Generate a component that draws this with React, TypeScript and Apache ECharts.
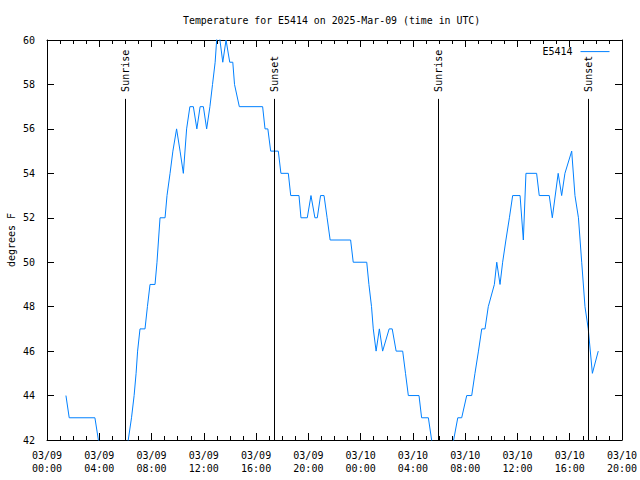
import React, { useEffect, useRef } from "react";
import * as echarts from "echarts";

// Observation times (UTC) and temperatures (°F)
const times: string[] = [
  "03-09 01:27", "03-09 01:42", "03-09 03:40", "03-09 03:56", "03-09 04:12", "03-09 04:36",
  "03-09 05:30", "03-09 05:54", "03-09 06:13", "03-09 06:28", "03-09 06:40", "03-09 06:49",
  "03-09 06:56", "03-09 07:07", "03-09 07:30", "03-09 07:41", "03-09 07:53", "03-09 08:16",
  "03-09 08:25", "03-09 08:32", "03-09 08:39", "03-09 09:02", "03-09 09:11", "03-09 09:25",
  "03-09 09:38", "03-09 09:55", "03-09 10:11", "03-09 10:26", "03-09 10:41", "03-09 10:56",
  "03-09 11:12", "03-09 11:28", "03-09 11:43", "03-09 11:58", "03-09 12:13", "03-09 12:28",
  "03-09 12:40", "03-09 12:52", "03-09 12:59", "03-09 13:06", "03-09 13:14", "03-09 13:27",
  "03-09 13:42", "03-09 13:59", "03-09 14:13", "03-09 14:21", "03-09 14:43", "03-09 16:30",
  "03-09 16:41", "03-09 16:54", "03-09 17:07", "03-09 17:42", "03-09 17:54", "03-09 18:28",
  "03-09 18:39", "03-09 19:17", "03-09 19:26", "03-09 19:55", "03-09 20:12", "03-09 20:30",
  "03-09 20:41", "03-09 20:56", "03-09 21:12", "03-09 21:26", "03-09 21:40", "03-09 23:14",
  "03-09 23:26", "03-10 00:28", "03-10 00:38", "03-10 00:50", "03-10 00:58", "03-10 01:11",
  "03-10 01:26", "03-10 01:41", "03-10 02:11", "03-10 02:25", "03-10 02:43", "03-10 03:13",
  "03-10 03:26", "03-10 03:39", "03-10 04:28", "03-10 04:40", "03-10 05:11", "03-10 05:26",
  "03-10 05:37", "03-10 06:00", "03-10 06:48", "03-10 07:07", "03-10 07:26", "03-10 07:44",
  "03-10 08:07", "03-10 08:30", "03-10 08:45", "03-10 09:01", "03-10 09:16", "03-10 09:31",
  "03-10 09:46", "03-10 10:14", "03-10 10:25", "03-10 10:40", "03-10 10:52", "03-10 11:07",
  "03-10 11:23", "03-10 11:38", "03-10 12:12", "03-10 12:27", "03-10 12:39", "03-10 13:28",
  "03-10 13:40", "03-10 14:26", "03-10 14:40", "03-10 15:07", "03-10 15:23", "03-10 15:38",
  "03-10 16:09", "03-10 16:24", "03-10 16:40", "03-10 16:55", "03-10 17:10", "03-10 17:25",
  "03-10 17:44", "03-10 18:11",
];
const temps: number[] = [
  44, 43, 43, 42, 41, 40,
  40, 41, 42, 43, 44, 45,
  46, 47, 47, 48, 49, 49,
  50, 51, 52, 52, 53, 54,
  55, 56, 55, 54, 56, 57,
  57, 56, 57, 57, 56, 57,
  58, 59, 60, 61, 60, 59,
  60, 59, 59, 58, 57, 57,
  56, 56, 55, 55, 54, 54,
  53, 53, 52, 52, 53, 52,
  52, 53, 53, 52, 51, 51,
  50, 50, 49, 48, 47, 46,
  47, 46, 47, 47, 46, 46,
  45, 44, 44, 43, 43, 42,
  41, 40, 41, 42, 43, 43,
  44, 44, 45, 46, 47, 47,
  48, 49, 50, 49, 50, 51,
  52, 53, 53, 51, 54, 54,
  53, 53, 52, 54, 53, 54,
  55, 53, 52, 50, 48, 47,
  45, 46,
];

const sunEvents: { label: string; time: string }[] = [
  { label: "Sunrise", time: "03-09 06:00" },
  { label: "Sunset", time: "03-09 17:24" },
  { label: "Sunrise", time: "03-10 05:58" },
  { label: "Sunset", time: "03-10 17:25" },
];

const xTickLabels: string[] = [
  "03/09\n00:00", "03/09\n04:00", "03/09\n08:00", "03/09\n12:00", "03/09\n16:00", "03/09\n20:00",
  "03/10\n00:00", "03/10\n04:00", "03/10\n08:00", "03/10\n12:00", "03/10\n16:00", "03/10\n20:00",
];

const title = "Temperature for E5414 on 2025-Mar-09 (time in UTC)";
const seriesName = "E5414";
const yName = "degrees F";
const sunLineTop = 57.35;

// hours since 2025-03-09 00:00 UTC
function toHours(s: string): number {
  const [md, hm] = s.split(" ");
  const day = parseInt(md.split("-")[1], 10);
  const [h, m] = hm.split(":").map((v) => parseInt(v, 10));
  return (day - 9) * 24 + h + m / 60;
}

const FONT = "DejaVu Sans Mono";
const LINE_COLOR = "#0080ff";

export default function App() {
  const ref = useRef<HTMLDivElement>(null);
  useEffect(() => {
    if (!ref.current) return;
    const chart = echarts.init(ref.current, null, { renderer: "svg" });
    const data = times.map((t, i) => [toHours(t), temps[i]]);
    const axisCommon = {
      type: "value" as const,
      axisLine: { show: true, onZero: false, lineStyle: { color: "#000", width: 1 } },
      splitLine: { show: false },
    };
    chart.setOption({
      animation: false,
      backgroundColor: "#fff",
      textStyle: { fontFamily: FONT },
      title: {
        text: title,
        left: 183,
        top: 15,
        padding: 0,
        textStyle: { fontFamily: FONT, fontSize: 9.9, fontWeight: "normal", color: "#000" },
      },
      legend: {
        data: [seriesName],
        right: 25,
        top: 41,
        align: "right",
        itemWidth: 29,
        itemHeight: 14,
        itemGap: 5,
        itemStyle: { opacity: 0 },
        lineStyle: { color: LINE_COLOR, width: 1, opacity: 1 },
        textStyle: { fontFamily: FONT, fontSize: 10, color: "#000", padding: [0, 3, 0, 0] },
      },
      grid: {
        left: 47,
        top: 40,
        width: 575,
        height: 400,
        show: false,
        containLabel: false,
        outerBoundsMode: "none",
      },
      xAxis: [
        {
          ...axisCommon,
          position: "bottom",
          min: 0,
          max: 44,
          interval: 4,
          axisTick: { show: true, inside: true, length: 7, lineStyle: { color: "#000" } },
          minorTick: { show: true, splitNumber: 4, length: 4, lineStyle: { color: "#000" } },
          axisLabel: {
            color: "#000",
            fontFamily: FONT,
            fontSize: 10,
            lineHeight: 13,
            margin: 9,
            formatter: (v: number) => xTickLabels[Math.round(v / 4)] ?? "",
          },
        },
        {
          ...axisCommon,
          position: "top",
          min: 0,
          max: 44,
          interval: 4,
          axisTick: { show: true, inside: true, length: 7, lineStyle: { color: "#000" } },
          minorTick: { show: true, splitNumber: 4, length: 4, lineStyle: { color: "#000" } },
          axisLabel: { show: false },
        },
      ],
      yAxis: [
        {
          ...axisCommon,
          position: "left",
          min: 42,
          max: 60,
          interval: 2,
          name: yName,
          nameLocation: "middle",
          nameRotate: 90,
          nameGap: 31,
          nameMoveOverlap: false,
          nameTextStyle: { fontFamily: FONT, fontSize: 10, color: "#000" },
          axisTick: { show: true, inside: true, length: 7, lineStyle: { color: "#000" } },
          axisLabel: { color: "#000", fontFamily: FONT, fontSize: 10, margin: 12 },
        },
        {
          ...axisCommon,
          position: "right",
          min: 42,
          max: 60,
          interval: 2,
          axisTick: { show: true, inside: true, length: 7, lineStyle: { color: "#000" } },
          axisLabel: { show: false },
        },
      ],
      series: [
        {
          name: seriesName,
          type: "line",
          data,
          symbol: "none",
          showSymbol: false,
          clip: true,
          color: LINE_COLOR,
          lineStyle: { color: LINE_COLOR, width: 1 },
          z: 3,
        },
        {
          name: "sun",
          type: "line",
          data: [],
          symbol: "none",
          markLine: {
            silent: true,
            symbol: ["none", "none"],
            label: { show: false },
            lineStyle: { color: "#000", width: 1, type: "solid" },
            data: sunEvents.map((e) => [
              { coord: [toHours(e.time), 42] },
              { coord: [toHours(e.time), sunLineTop] },
            ]),
          },
          markPoint: {
            silent: true,
            symbol: "circle",
            symbolSize: 0,
            label: {
              show: true,
              position: "top",
              distance: 7,
              rotate: 90,
              align: "left",
              verticalAlign: "middle",
              color: "#000",
              fontFamily: FONT,
              fontSize: 10,
              formatter: (p: any) => p.name,
            },
            data: sunEvents.map((e) => ({
              name: e.label,
              coord: [toHours(e.time), sunLineTop],
            })),
          },
        },
      ],
    });
    return () => chart.dispose();
  }, []);
  return <div ref={ref} style={{ width: 640, height: 480, position: "absolute", left: 0, top: 0 }} />;
}
